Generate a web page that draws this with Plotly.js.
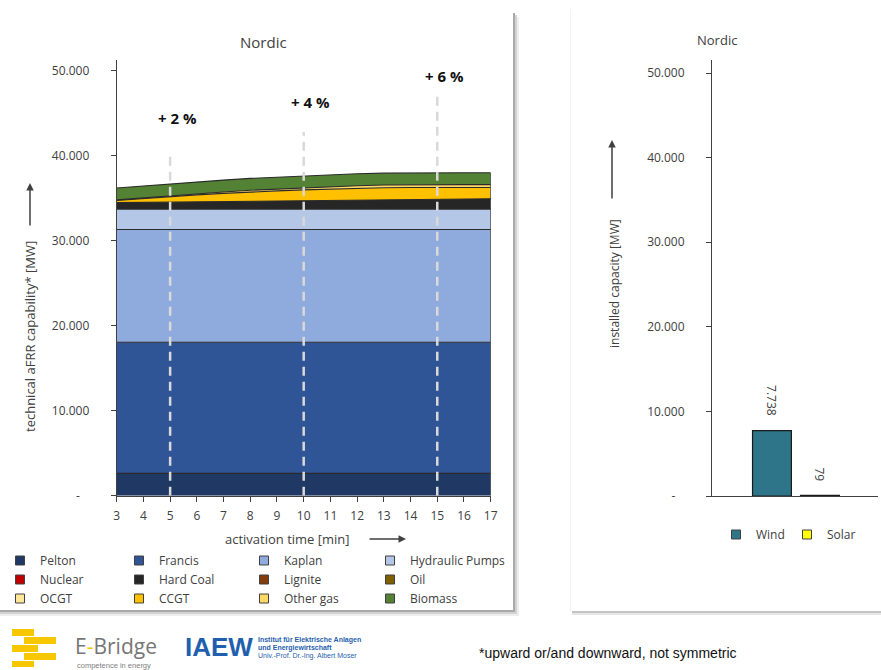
<!DOCTYPE html>
<html>
<head>
<meta charset="utf-8">
<script src="https://cdn.plot.ly/plotly-3.0.1.min.js"></script>
<style>html,body{margin:0;padding:0;background:#fff;overflow:hidden;width:881px;height:670px;}#chart{width:881px;height:670px;overflow:hidden;}</style>
</head>
<body>
<div id="chart"></div>
<script>
// ---------- DATA ----------
const activationTime = [3,4,5,6,7,8,9,10,11,12,13,14,15,16,17];
const pelton    = [2630,2630,2630,2630,2630,2630,2630,2630,2630,2630,2630,2630,2630,2630,2630];
const francis   = [15420,15420,15420,15420,15420,15420,15420,15420,15420,15420,15420,15420,15420,15420,15420];
const kaplan    = [13270,13270,13270,13270,13270,13270,13270,13270,13270,13270,13270,13270,13270,13270,13270];
const hydraulicPumps = [2410,2410,2410,2410,2410,2410,2410,2410,2410,2410,2410,2410,2410,2410,2410];
const nuclear   = [0,0,0,0,0,0,0,0,0,0,0,0,0,0,0];
const hardCoal  = [750,780,810,850,880,910,950,980,1020,1060,1100,1130,1160,1180,1200];
const lignite   = [0,0,0,0,0,0,0,0,0,0,0,0,0,0,0];
const oil       = [0,0,0,0,0,0,0,0,0,0,0,0,0,0,0];
const ocgt      = [0,0,0,0,0,0,0,0,0,0,0,0,0,0,0];
const ccgt      = [270,470,660,810,960,1100,1180,1270,1330,1380,1400,1400,1370,1350,1330];
const otherGas  = [50,70,100,130,160,190,220,250,280,300,320,330,340,340,340];
const biomass   = [1400,1400,1400,1400,1400,1400,1400,1400,1400,1400,1400,1400,1400,1400,1400];

const seriesNames = ['Pelton','Francis','Kaplan','Hydraulic Pumps','Nuclear','Hard Coal','Lignite','Oil','OCGT','CCGT','Other gas','Biomass'];
const seriesValues = [pelton,francis,kaplan,hydraulicPumps,nuclear,hardCoal,lignite,oil,ocgt,ccgt,otherGas,biomass];
const seriesColors = ['#203864','#2F5597','#8FAADC','#B4C7E7','#C00000','#262626','#843C0C','#7F6000','#FFE699','#FFC000','#FFD966','#548235'];

const stepTimes  = [5,10,15];
const stepTops   = [40200,42800,47400];
const stepLabelY = [44400,46300,49400];
const stepLabels = ['+ 2 %','+ 4 %','+ 6 %'];

const yTickVals = [0,10000,20000,30000,40000,50000];

const resCategories = ['Wind','Solar'];
const resValues = [7738,79];
const resColors = ['#2E7589','#FFFF00'];

// ---------- HELPERS ----------
const W = 881, H = 670;
const px = v => v / W;
const py = v => (H - v) / H;
function fmt(v){
  if (v === 0) return '-\u00a0\u00a0\u00a0';
  return String(v).replace(/\B(?=(\d{3})+(?!\d))/g, '.');
}
const FONT = 'Open Sans, Noto Sans, sans-serif';
const NARROW = 'Liberation Sans Narrow, Liberation Sans, sans-serif';
const TXT = '#404040';

// ---------- TRACES ----------
const traces = [];
seriesNames.forEach((name, i) => {
  traces.push({
    type: 'scatter', mode: 'lines', x: activationTime, y: seriesValues[i],
    stackgroup: 'one', name: name, fillcolor: seriesColors[i],
    line: {color: '#2b2b2b', width: 1.1}, showlegend: false,
    xaxis: 'x', yaxis: 'y', hoverinfo: 'x+y+name'
  });
});
const legendIds = ['legend','legend2','legend3','legend4'];
seriesNames.forEach((name, i) => {
  traces.push({
    type: 'scatter', mode: 'markers', x: [null], y: [null], name: name,
    marker: {symbol: 'square', size: 9, color: seriesColors[i], line: {color: '#404040', width: 1}},
    legend: legendIds[i % 4], showlegend: true, xaxis: 'x', yaxis: 'y', hoverinfo: 'skip'
  });
});
resCategories.forEach((c, i) => {
  traces.push({
    type: 'bar', x: [c], y: [resValues[i]], name: c, width: 0.81,
    marker: {color: resColors[i], line: {color: '#1a1a1a', width: 1.2}},
    xaxis: 'x2', yaxis: 'y2', showlegend: false, hoverinfo: 'x+y'
  });
  traces.push({
    type: 'scatter', mode: 'markers', x: [null], y: [null], name: c,
    marker: {symbol: 'square', size: 9, color: resColors[i], line: {color: '#404040', width: 1}},
    legend: 'legend5', showlegend: true, xaxis: 'x2', yaxis: 'y2', hoverinfo: 'skip'
  });
});

// ---------- SHAPES ----------
const shapes = [];
const rectP = (x0,y0,x1,y1,c) => ({type:'rect', xref:'paper', yref:'paper', x0:px(x0), x1:px(x1), y0:py(y1), y1:py(y0), fillcolor:c, line:{width:0}, layer:'below'});
shapes.push(rectP(513,13,515,612,'#a9a9a9'));
shapes.push(rectP(515,15,517,614,'#d2d2d2'));
shapes.push(rectP(517,17,519,616,'#eeeeee'));
shapes.push(rectP(0,610,515,612,'#a9a9a9'));
shapes.push(rectP(0,612,517,614,'#d2d2d2'));
shapes.push(rectP(0,614,519,616,'#eeeeee'));
shapes.push(rectP(570,10,571,612,'#f2f2f2'));
shapes.push(rectP(572,611,881,613,'#c4c4c4'));
shapes.push(rectP(572,613,881,615,'#e6e6e6'));
const YEL = '#F7C800';
shapes.push(rectP(12,629,34,636,YEL));
shapes.push(rectP(24,637,56,644,YEL));
shapes.push(rectP(12,645,38,652,YEL));
shapes.push(rectP(24,653,56,660,YEL));
shapes.push(rectP(12,661,34,667,YEL));
stepTimes.forEach((t, i) => {
  shapes.push({type:'line', xref:'x', yref:'y', x0:t, x1:t, y0:0, y1:stepTops[i],
    line:{color:'#d9d9d9', width:2.5, dash:'9px,6px'}, layer:'above'});
});
const lastIdx = activationTime.length - 1;
const lastTotal = seriesValues.reduce((s, arr) => s + arr[lastIdx], 0);
shapes.push({type:'line', xref:'x', yref:'y', x0:activationTime[lastIdx], x1:activationTime[lastIdx], y0:0, y1:lastTotal,
  line:{color:'#2b2b2b', width:1.2}, layer:'above'});

// ---------- ANNOTATIONS ----------
const ann = [];
const P = (o) => Object.assign({xref:'paper', yref:'paper', xanchor:'center', yanchor:'middle', showarrow:false}, o);
ann.push(P({text:'Nordic', x:px(263), y:py(42), font:{family:FONT, size:15, color:TXT}}));
ann.push(P({text:'Nordic', x:px(717), y:py(40), font:{family:FONT, size:13, color:TXT}}));
ann.push(P({text:'technical aFRR capability* [MW]', x:px(30), y:py(337), textangle:-90, font:{family:FONT, size:13, color:TXT}}));
ann.push(P({text:'', x:px(30), y:py(183), showarrow:true, ax:0, ay:44, arrowhead:2, arrowsize:1, arrowwidth:1.5, arrowcolor:'#404040'}));
ann.push(P({text:'activation time [min]', x:px(287), y:py(539), font:{family:FONT, size:13, color:TXT}}));
ann.push(P({text:'', x:px(406), y:py(539), showarrow:true, ax:-38, ay:0, arrowhead:2, arrowsize:1, arrowwidth:1.5, arrowcolor:'#404040'}));
ann.push(P({text:'installed capacity [MW]', x:px(614), y:py(284), textangle:-90, font:{family:FONT, size:12, color:TXT}}));
ann.push(P({text:'', x:px(612), y:py(140), showarrow:true, ax:0, ay:60, arrowhead:2, arrowsize:1, arrowwidth:1.5, arrowcolor:'#404040'}));
stepTimes.forEach((t, i) => {
  ann.push({text:stepLabels[i], xref:'x', yref:'y', x:t, y:stepLabelY[i], xshift:7, xanchor:'center', yanchor:'middle', showarrow:false,
    font:{family:FONT, size:15, color:'#111', weight:'bold'}});
});
resCategories.forEach((c, i) => {
  ann.push({text:fmt(resValues[i]), xref:'x2', yref:'y2', x:c, y:resValues[i], xanchor:'center', yanchor:'bottom', yshift:12,
    textangle:90, showarrow:false, font:{family:FONT, size:12, color:TXT}});
});
ann.push(P({text:'E<span style="color:#F7C800">-</span>Bridge', x:px(73), y:py(646), xanchor:'left',
  font:{family:FONT, size:21, color:'#767676'}}));
ann.push(P({text:'competence in energy', x:px(75), y:py(665), xanchor:'left',
  font:{family:'Liberation Sans, sans-serif', size:7.5, color:'#808080'}}));
ann.push(P({text:'<b>IAEW</b>', x:px(219), y:py(647), font:{family:NARROW, size:26, color:'#1F5FAE'}}));
ann.push(P({text:'<b>Institut für Elektrische Anlagen</b>', x:px(256), y:py(640), xanchor:'left', font:{family:NARROW, size:7, color:'#1F5FAE'}}));
ann.push(P({text:'<b>und Energiewirtschaft</b>', x:px(256), y:py(648), xanchor:'left', font:{family:NARROW, size:7, color:'#1F5FAE'}}));
ann.push(P({text:'Univ.-Prof. Dr.-Ing. Albert Moser', x:px(256), y:py(656), xanchor:'left', font:{family:NARROW, size:7, color:'#1F5FAE'}}));
ann.push(P({text:'*upward or/and downward, not symmetric', x:px(477), y:py(653), xanchor:'left', font:{family:NARROW, size:14, color:'#111'}}));

// ---------- LAYOUT ----------
const legendBase = (x) => ({x:px(x), y:py(546), xanchor:'left', yanchor:'top', traceorder:'normal',
  font:{family:FONT, size:12, color:TXT}, bgcolor:'rgba(0,0,0,0)', borderwidth:0, tracegroupgap:0, itemclick:false, itemdoubleclick:false});

const yAxisBase = {
  tickvals: yTickVals, ticktext: yTickVals.map(fmt), ticks:'outside', ticklen:5, tickcolor:'#404040',
  showline:true, linecolor:'#404040', linewidth:1, showgrid:false, zeroline:false,
  tickfont:{family:FONT, size:12, color:TXT}, ticklabelstandoff:19, fixedrange:true
};

const layout = {
  width: W, height: H, autosize:false, margin:{l:0, r:0, t:0, b:0},
  paper_bgcolor:'#ffffff', plot_bgcolor:'rgba(0,0,0,0)',
  font:{family:FONT, color:TXT},
  separators: ',.',
  barmode:'overlay',
  xaxis: {domain:[px(116.7), px(490.7)], range:[3,17], tickvals: activationTime, ticks:'outside', ticklen:5,
    tickcolor:'#404040', showline:true, linecolor:'#404040', linewidth:1, showgrid:false, zeroline:false,
    tickfont:{family:FONT, size:12, color:TXT}, ticklabelstandoff:4, anchor:'y', fixedrange:true},
  yaxis: Object.assign({}, yAxisBase, {domain:[py(495.7), py(60)], range:[0, 51260], anchor:'x'}),
  xaxis2: {domain:[px(712), px(878)], type:'category', categoryorder:'array', categoryarray: resCategories,
    range:[-1.25, 2.21], showticklabels:false, ticks:'', showline:true, linecolor:'#404040', linewidth:1,
    showgrid:false, zeroline:false, anchor:'y2', fixedrange:true},
  yaxis2: Object.assign({}, yAxisBase, {domain:[py(496), py(60)], range:[0, 51540], anchor:'x2'}),
  legend: legendBase(0),
  legend2: legendBase(119),
  legend3: legendBase(244),
  legend4: legendBase(370),
  legend5: {orientation:'h', x:px(716), y:py(520), xanchor:'left', yanchor:'top', traceorder:'normal',
    font:{family:FONT, size:12, color:TXT}, bgcolor:'rgba(0,0,0,0)', entrywidth:26, itemclick:false, itemdoubleclick:false},
  shapes: shapes,
  annotations: ann,
  showlegend: true,
  hovermode: false
};

Plotly.newPlot('chart', traces, layout, {displayModeBar:false, staticPlot:true, responsive:false});
</script>
</body>
</html>
